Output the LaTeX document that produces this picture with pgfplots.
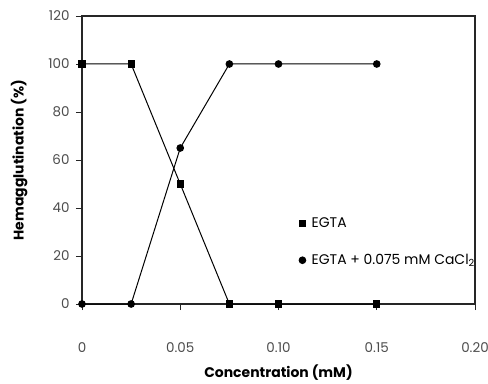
\documentclass[border=0pt]{standalone}
\usepackage{pgfplots}
\pgfplotsset{compat=1.18}
\usepackage{fontspec}
\setmainfont{Poppins}
\begin{document}
\begin{tikzpicture}
\begin{axis}[
  at={(0,0)}, anchor=south west,
  scale only axis, width=393bp, height=288bp,
  xmin=0, xmax=0.2, ymin=0, ymax=120,
  xtick={0,0.05,0.1,0.15,0.2},
  xticklabels={0,0.05,0.10,0.15,0.20},
  ytick={0,20,...,120},
  tick align=outside, tick pos=left,
  major tick length=6bp,
  axis line style={line width=1.2bp, black!85},
  tick style={line width=0.9bp, black!85},
  every tick label/.append style={font=\fontsize{13.5}{15}\selectfont, text=black!70},
  xticklabel style={yshift=-29bp},
  yticklabel style={xshift=-3bp},
  /pgf/number format/assume math mode=true,
  xlabel={\textbf{Concentration (mM)}},
  ylabel={\textbf{Hemagglutination (\%)}},
  label style={font=\fontsize{14}{16}\selectfont},
  xlabel style={yshift=-5bp},
  ylabel style={yshift=14bp},
  legend style={draw=none, fill=none, at={(axis cs:0.1104,25.8)}, anchor=west,
    font=\fontsize{14}{16}\selectfont, row sep=21bp, inner sep=0pt,
    nodes={inner xsep=6bp}},
  legend cell align=left,
  legend image code/.code={\draw[#1,only marks] plot coordinates {(0.15cm,0cm)};},
]
\addplot[black, line width=1bp, mark=square*, mark size=3.1bp] coordinates {
  (0,100) (0.025,100) (0.05,50) (0.075,0) (0.1,0) (0.15,0)};
\addlegendentry{EGTA}
\addplot[black, line width=1bp, mark=*, mark size=3.3bp] coordinates {
  (0,0) (0.025,0) (0.05,65) (0.075,100) (0.1,100) (0.15,100)};
\addlegendentry{EGTA + 0.075 mM CaCl\textsubscript{2}}
\end{axis}
\pgfresetboundingbox
\path[use as bounding box] (-82bp,-80bp) rectangle (406bp,304bp);
\end{tikzpicture}
\end{document}
